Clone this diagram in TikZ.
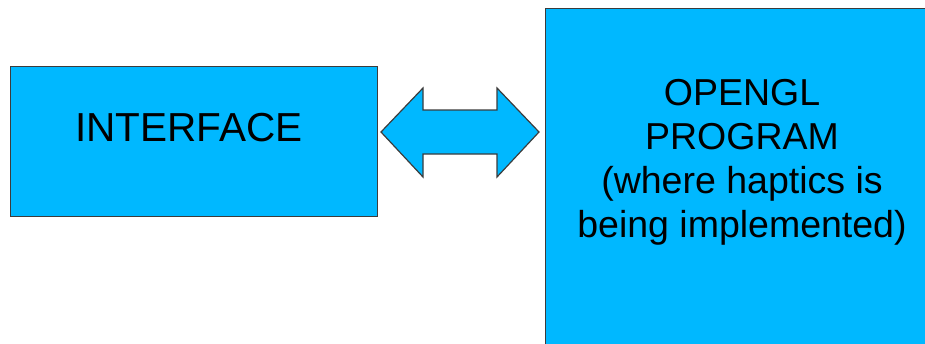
\documentclass[tikz,border=0pt]{standalone}
\usepackage{fontspec}
\setmainfont{Liberation Sans}
\definecolor{boxblue}{HTML}{00B8FF}
\definecolor{edgegrey}{HTML}{3C3C3C}
\begin{document}
\begin{tikzpicture}[x=1pt,y=-1pt,
  blockbox/.style={draw=edgegrey,line width=1.2pt,fill=boxblue,inner sep=0pt,anchor=north west},
  label/.style={font=\fontsize{37.5}{44}\selectfont,align=center,text=black,inner sep=0pt}]
\useasboundingbox (0,0) rectangle (925,343);
\node[blockbox,minimum width=367pt,minimum height=150pt] (iface) at (10,66) {};
\node[label,font=\fontsize{40.5}{44}\selectfont] (ifacetext) at (189,128) {INTERFACE};
\node[blockbox,minimum width=400pt,minimum height=360pt] (ogl) at (545,8) {};
\node[label] (ogltext) at (742,162) {OPENGL\\PROGRAM\\(where haptics is\\being implemented)};
\draw[draw=edgegrey,line width=1.2pt,fill=boxblue,line join=miter]
  (381,132) -- (423,88) -- (423,110) -- (497,110) -- (497,88) -- (539,132)
  -- (497,177) -- (497,154) -- (423,154) -- (423,177) -- cycle;
\coordinate (arrowmid) at (460,132);
\end{tikzpicture}
\end{document}
